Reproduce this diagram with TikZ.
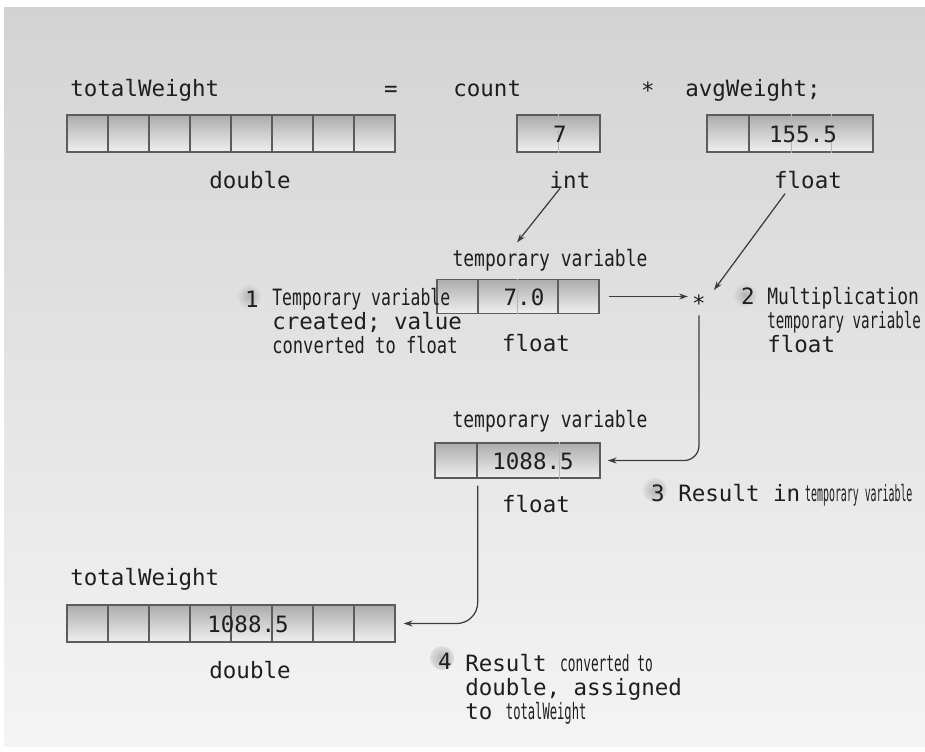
\documentclass[tikz,border=0pt]{standalone}
\usepackage{fontspec}
\setmonofont{DejaVu Sans Mono}
\usepackage{graphicx}
\usepackage{tikz}
\usetikzlibrary{arrows.meta, positioning}
\definecolor{BgTop}{RGB}{211,211,211}
\definecolor{BgBot}{RGB}{244,244,244}
\definecolor{CellTop}{RGB}{172,172,172}
\definecolor{CellBot}{RGB}{240,240,240}
\definecolor{CellLine}{RGB}{92,92,92}
\definecolor{Ink}{RGB}{30,30,30}
\definecolor{Wire}{RGB}{60,60,60}
\newcommand{\squeezed}[2]{\scalebox{#1}[1]{#2}}

\begin{document}
\begin{tikzpicture}[x=0.02cm, y=-0.02cm,
          cell/.style={rectangle, draw=CellLine, line width=0.8pt, inner sep=0pt,
                       top color=CellTop, bottom color=CellBot, minimum height=0.74cm},
          faint/.style={draw=CellLine!45, line width=0.6pt},
          lbl/.style={font=\ttfamily\fontsize{12.8}{15.4}\selectfont, text=Ink, inner sep=0pt},
          val/.style={lbl, anchor=center},
          note/.style={lbl, align=left, anchor=base west,
                       font=\ttfamily\fontsize{12.8}{13.6}\selectfont},
          badge/.style={circle, minimum size=0.48cm, inner sep=0pt,
                        inner color=black!30, outer color=black!13},
          arr/.style={-{Stealth[length=5pt, width=3.4pt]}, draw=Wire, line width=0.7pt}
        ]
        \useasboundingbox (0,0) rectangle (925,751);
        \shade[top color=BgTop, bottom color=BgBot] (4,7) rectangle (925,746);

        % statement
        \node[lbl, anchor=base west] (twl)  at (70,96)  {totalWeight};
        \node[lbl, anchor=base]      (eq)   at (391,96) {=};
        \node[lbl, anchor=base west] (cntl) at (453,96) {count};
        \node[lbl, anchor=base]      (star) at (648,98) {*};
        \node[lbl, anchor=base west] (avgl) at (685,96) {avgWeight;};

        % variables
        \foreach \i in {0,...,7}
          \node[cell, minimum width=0.82cm] (tw\i) at (87.5+41*\i,133.5) {};
        \node[cell, minimum width=1.66cm] (cnt)  at (558.5,133.5) {};
        \node[cell, minimum width=0.84cm] (avg0) at (728,133.5) {};
        \node[cell, minimum width=2.48cm] (avg1) at (811,133.5) {};
        \draw[faint] ([xshift=0.84cm]cnt.north west) -- ([xshift=0.84cm]cnt.south west);
        \draw[faint] ([xshift=0.86cm]avg1.north west) -- ([xshift=0.86cm]avg1.south west);
        \draw[faint] ([xshift=1.66cm]avg1.north west) -- ([xshift=1.66cm]avg1.south west);
        \node[val] (v7)   at (560,134) {7};
        \node[val] (v155) at (803,134) {155.5};

        \node[lbl, anchor=base] (dbl)  at (250,188) {double};
        \node[lbl, anchor=base] (intl) at (570,188) {int};
        \node[lbl, anchor=base] (fltl) at (808,188) {float};

        % step 1
        \node[lbl, anchor=base] (tvA) at (550,266) {\squeezed{0.8}{temporary variable}};
        \node[cell, minimum width=0.82cm, minimum height=0.68cm] (tmpA0) at (457.5,296.5) {};
        \node[cell, minimum width=1.6cm,  minimum height=0.68cm] (tmpA1) at (518,296.5) {};
        \node[cell, minimum width=0.82cm, minimum height=0.68cm] (tmpA2) at (578.5,296.5) {};
        \draw[faint] ([xshift=0.8cm]tmpA1.north west) -- ([xshift=0.8cm]tmpA1.south west);
        \node[val] (v70) at (524,297) {7.0};
        \node[lbl, anchor=base] (fltA) at (536,351) {float};
        \node[badge] (b1) at (249,296) {};
        \node[lbl, anchor=base] (n1) at (252,307) {1};
        \node[note] (c1) at (272,353)
              {\squeezed{0.73}{Temporary variable}\\created; value\\\squeezed{0.76}{converted to float}};

        % step 2
        \node[lbl, anchor=base, inner sep=0.08cm] (mul) at (699,311) {*};
        \node[badge] (b2) at (745,295) {};
        \node[lbl, anchor=base] (n2) at (748,304) {2};
        \node[note] (c2) at (767,352)
              {\squeezed{0.8}{Multiplication}\\\squeezed{0.63}{temporary variable}\\float};

        % step 3
        \node[lbl, anchor=base] (tvB) at (550,427) {\squeezed{0.8}{temporary variable}};
        \node[cell, minimum width=0.84cm, minimum height=0.7cm] (tmpB0) at (456,460.5) {};
        \node[cell, minimum width=2.46cm, minimum height=0.7cm] (tmpB1) at (538.5,460.5) {};
        \draw[faint] ([xshift=1.66cm]tmpB1.north west) -- ([xshift=1.66cm]tmpB1.south west);
        \node[val] (v1088) at (533,461) {1088.5};
        \node[lbl, anchor=base] (fltB) at (536,512) {float};
        \node[badge] (b3) at (655,490) {};
        \node[lbl, anchor=base] (n3) at (658,501) {3};
        \node[note] (c3) at (678,501)
              {Result in\hspace{0.1cm}\squeezed{0.44}{temporary variable}};

        % step 4
        \node[lbl, anchor=base west] (twBl) at (70,585) {totalWeight};
        \foreach \i in {0,...,7}
          \node[cell, minimum width=0.82cm] (twB\i) at (87.5+41*\i,623.5) {};
        \node[val] (vB) at (248,624) {1088.5};
        \node[lbl, anchor=base] (dblB) at (250,678) {double};
        \node[badge] (b4) at (442,658) {};
        \node[lbl, anchor=base] (n4) at (445,669) {4};
        \node[note] (c4) at (465,719)
              {Result \squeezed{0.57}{converted to}\\double, assigned\\to \squeezed{0.54}{totalWeight}};

        % connectors
        \draw[arr] ([xshift=-0.2cm]intl.south) -- ([xshift=-0.66cm, yshift=0.12cm]tvA.north);
        \draw[arr] ([xshift=-0.46cm, yshift=-0.1cm]fltl.south) -- ([xshift=0.3cm]mul.north);
        \draw[arr] ([xshift=0.18cm]tmpA2.east) -- (tmpA2.east -| mul.west);
        \draw[arr, rounded corners=0.3cm] (mul.south) |- ([xshift=0.14cm]tmpB1.east);
        \draw[arr, rounded corners=0.42cm] ([yshift=-0.14cm]tmpB0.south east)
              |- ([xshift=0.16cm]twB7.east);
      \end{tikzpicture}
\end{document}
